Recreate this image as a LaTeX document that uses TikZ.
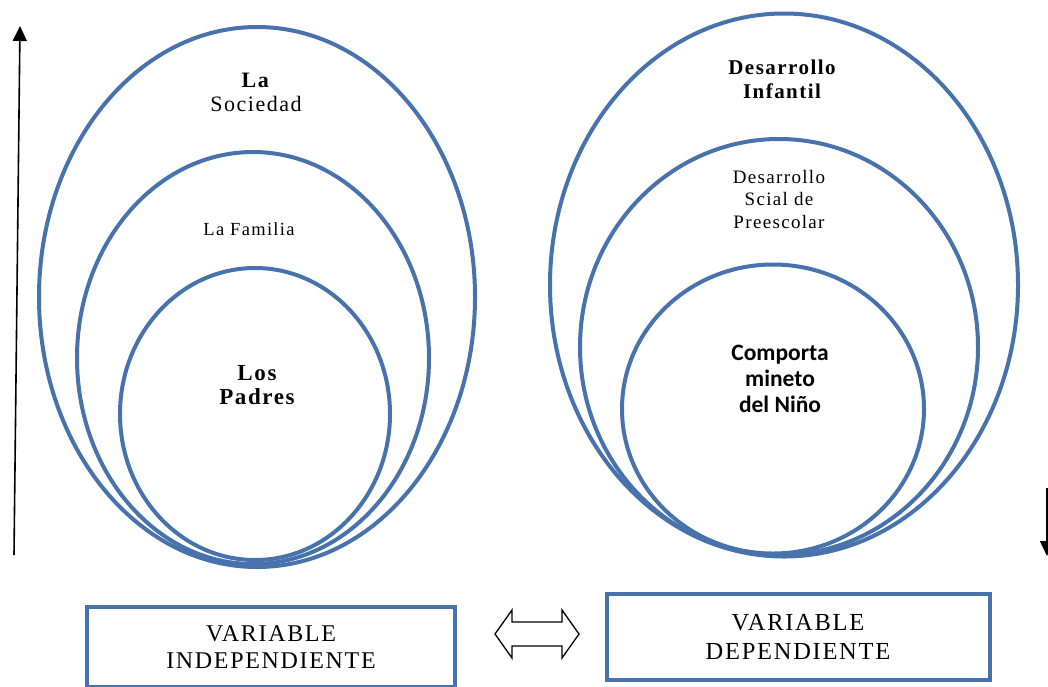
\documentclass[tikz,border=0pt]{standalone}
\usepackage{fontspec}
\setmainfont[LetterSpace=7, BoldFont={Liberation Serif Bold}]{Liberation Serif}
\newfontfamily\calibfont{Carlito}
\usetikzlibrary{
    arrows.meta,
    positioning,
    shapes.geometric
}
\definecolor{ringblue}{RGB}{72,114,172}
\tikzset{
    % Ring styles
    ring/.style={
        draw=ringblue,
        line width=4pt,
        ellipse,
        inner sep=0pt
    },
    % Label styles
    ring label/.style={
        align=center,
        inner sep=0pt
    },
    % Box styles
    variable box/.style={
        draw=ringblue,
        line width=4pt,
        rectangle,
        align=center
    },
    % Arrow styles
    axis arrow/.style={
        line width=1.6pt,
        -{Triangle[width=14pt,length=15pt]}
    },
    link arrow/.style={
        draw,
        line width=1.3pt,
        line join=miter
    }
}

\begin{document}
\begin{tikzpicture}[x=1pt,y=-1pt]
        \clip (0,0) rectangle (1048,686);

        % Left rings
        \node[ring, minimum width=436pt, minimum height=540pt] (sociedad) at (257,297) {};
        \node[ring, minimum width=352pt, minimum height=412pt] (familia) at (253,358) {};
        \node[ring, minimum width=270pt, minimum height=292pt] (padres) at (255,414) {};

        % Right rings
        \node[ring, minimum width=468pt, minimum height=543pt] (infantil) at (784,285) {};
        \node[ring, minimum width=398pt, minimum height=416pt] (social) at (779,347) {};
        \node[ring, minimum width=302pt, minimum height=289pt] (conducta) at (773,409) {};

        % Ring labels
        \node[ring label, font=\fontsize{22}{24}\selectfont] (sociedad text) at (256,92)
            {\textbf{La}\\Sociedad};
        \node[ring label, font=\fontsize{18.5}{20}\selectfont] (familia text) at (249,229)
            {La Familia};
        \node[ring label, font=\bfseries\fontsize{23}{24.5}\selectfont] (padres text) at (257,385)
            {Los\\Padres};
        \node[ring label, font=\bfseries\fontsize{21}{24}\selectfont] (infantil text) at (782,79)
            {Desarrollo\\Infantil};
        \node[ring label, font=\fontsize{19}{22.5}\selectfont] (social text) at (779,199)
            {Desarrollo\\Scial de\\Preescolar};
        \node[ring label, font=\calibfont\bfseries\fontsize{23.5}{26}\selectfont] (conducta text) at (780,379)
            {Comporta\\mineto\\del Niño};

        % Variable boxes
        \node[variable box, minimum width=368pt, minimum height=80pt,
              font=\fontsize{24}{27}\selectfont] (indep) at (271,647)
            {VARIABLE\\INDEPENDIENTE};
        \node[variable box, minimum width=383pt, minimum height=86pt,
              font=\fontsize{24.5}{29}\selectfont] (dep) at (798,637)
            {VARIABLE\\DEPENDIENTE};

        % Double arrow between the boxes
        \coordinate (link) at (537,634);
        \draw[link arrow] (link) ++(-42,0) -- ++(17,-24) -- ++(0,12) -- ++(50,0)
            -- ++(0,-12) -- ++(17,24) -- ++(-17,24) -- ++(0,-12) -- ++(-50,0)
            -- ++(0,12) -- cycle;

        % Side arrows
        \coordinate (up start) at (14,555);
        \coordinate (up end) at (20,26);
        \draw[axis arrow] (up start) -- (up end);
        \coordinate (down start) at (1047,488);
        \coordinate (down end) at (1047,556);
        \draw[axis arrow] (down start) -- (down end);
    \end{tikzpicture}
\end{document}
